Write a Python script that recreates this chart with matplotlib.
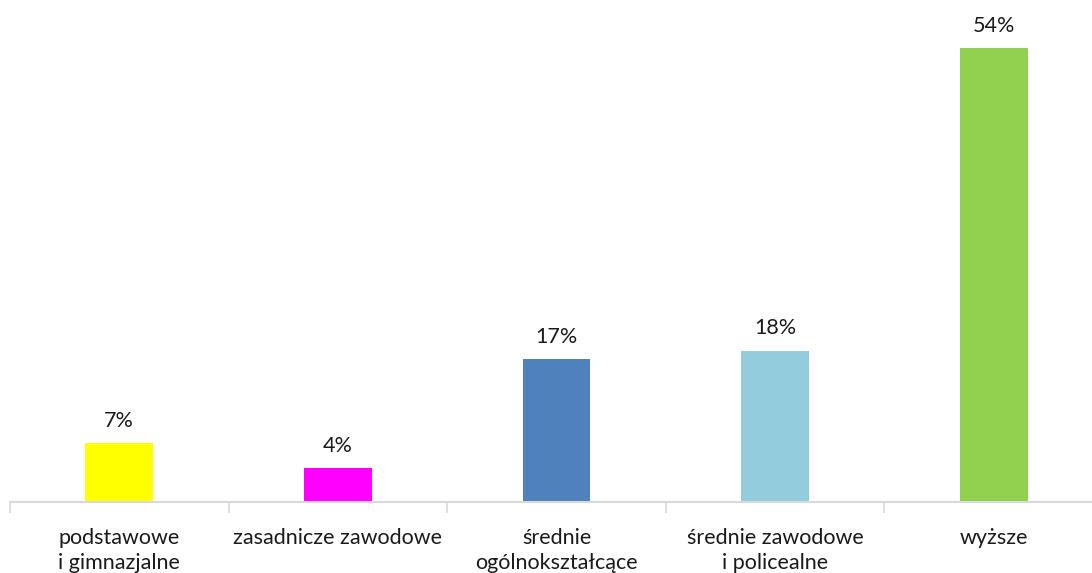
import matplotlib.pyplot as plt

categories = ["podstawowe\ni gimnazjalne", "zasadnicze zawodowe", "średnie\nogólnokształcące",
              "średnie zawodowe\ni policealne", "wyższe"]
values = [7, 4, 17, 18, 54]
labels = ["7%", "4%", "17%", "18%", "54%"]
colors = ["#FFFF00", "#FF00FF", "#4F81BD", "#93CDDD", "#92D050"]

plt.rcParams['font.family'] = ['Lato', 'DejaVu Sans']

fig = plt.figure(figsize=(10.92, 5.73), dpi=100)
W, H = 1092, 573
# oś x: od 10 px, szerokość kategorii ok. 218.6 px (wykres ucięty z prawej)
ax = fig.add_axes([10 / W, 71 / H, 1093 / W, 504.4 / H])

x = list(range(len(categories)))
bars = ax.bar(x, values, width=0.311, color=colors)

for xi, v, lab in zip(x, values, labels):
    ax.annotate(lab, (xi, v), xytext=(0, 9), textcoords='offset points',
                ha='center', va='bottom', fontsize=15.5, color='#1a1a1a')

ax.set_xlim(-0.5, 4.5)
ax.set_ylim(0, 60)

ax.set_xticks(x)
ax.set_xticklabels(categories, fontsize=15.5, color='#1a1a1a', linespacing=1.3)
ax.set_xticks([i - 0.5 for i in range(len(categories) + 1)], minor=True)
ax.tick_params(axis='x', which='major', length=0, pad=19)
ax.tick_params(axis='x', which='minor', length=8, width=1.2, color='#d9d9d9')
ax.set_yticks([])

for s in ['top', 'right', 'left']:
    ax.spines[s].set_visible(False)
ax.spines['bottom'].set_color('#d9d9d9')
ax.spines['bottom'].set_linewidth(1.5)

fig.savefig('out.png', dpi=100)
